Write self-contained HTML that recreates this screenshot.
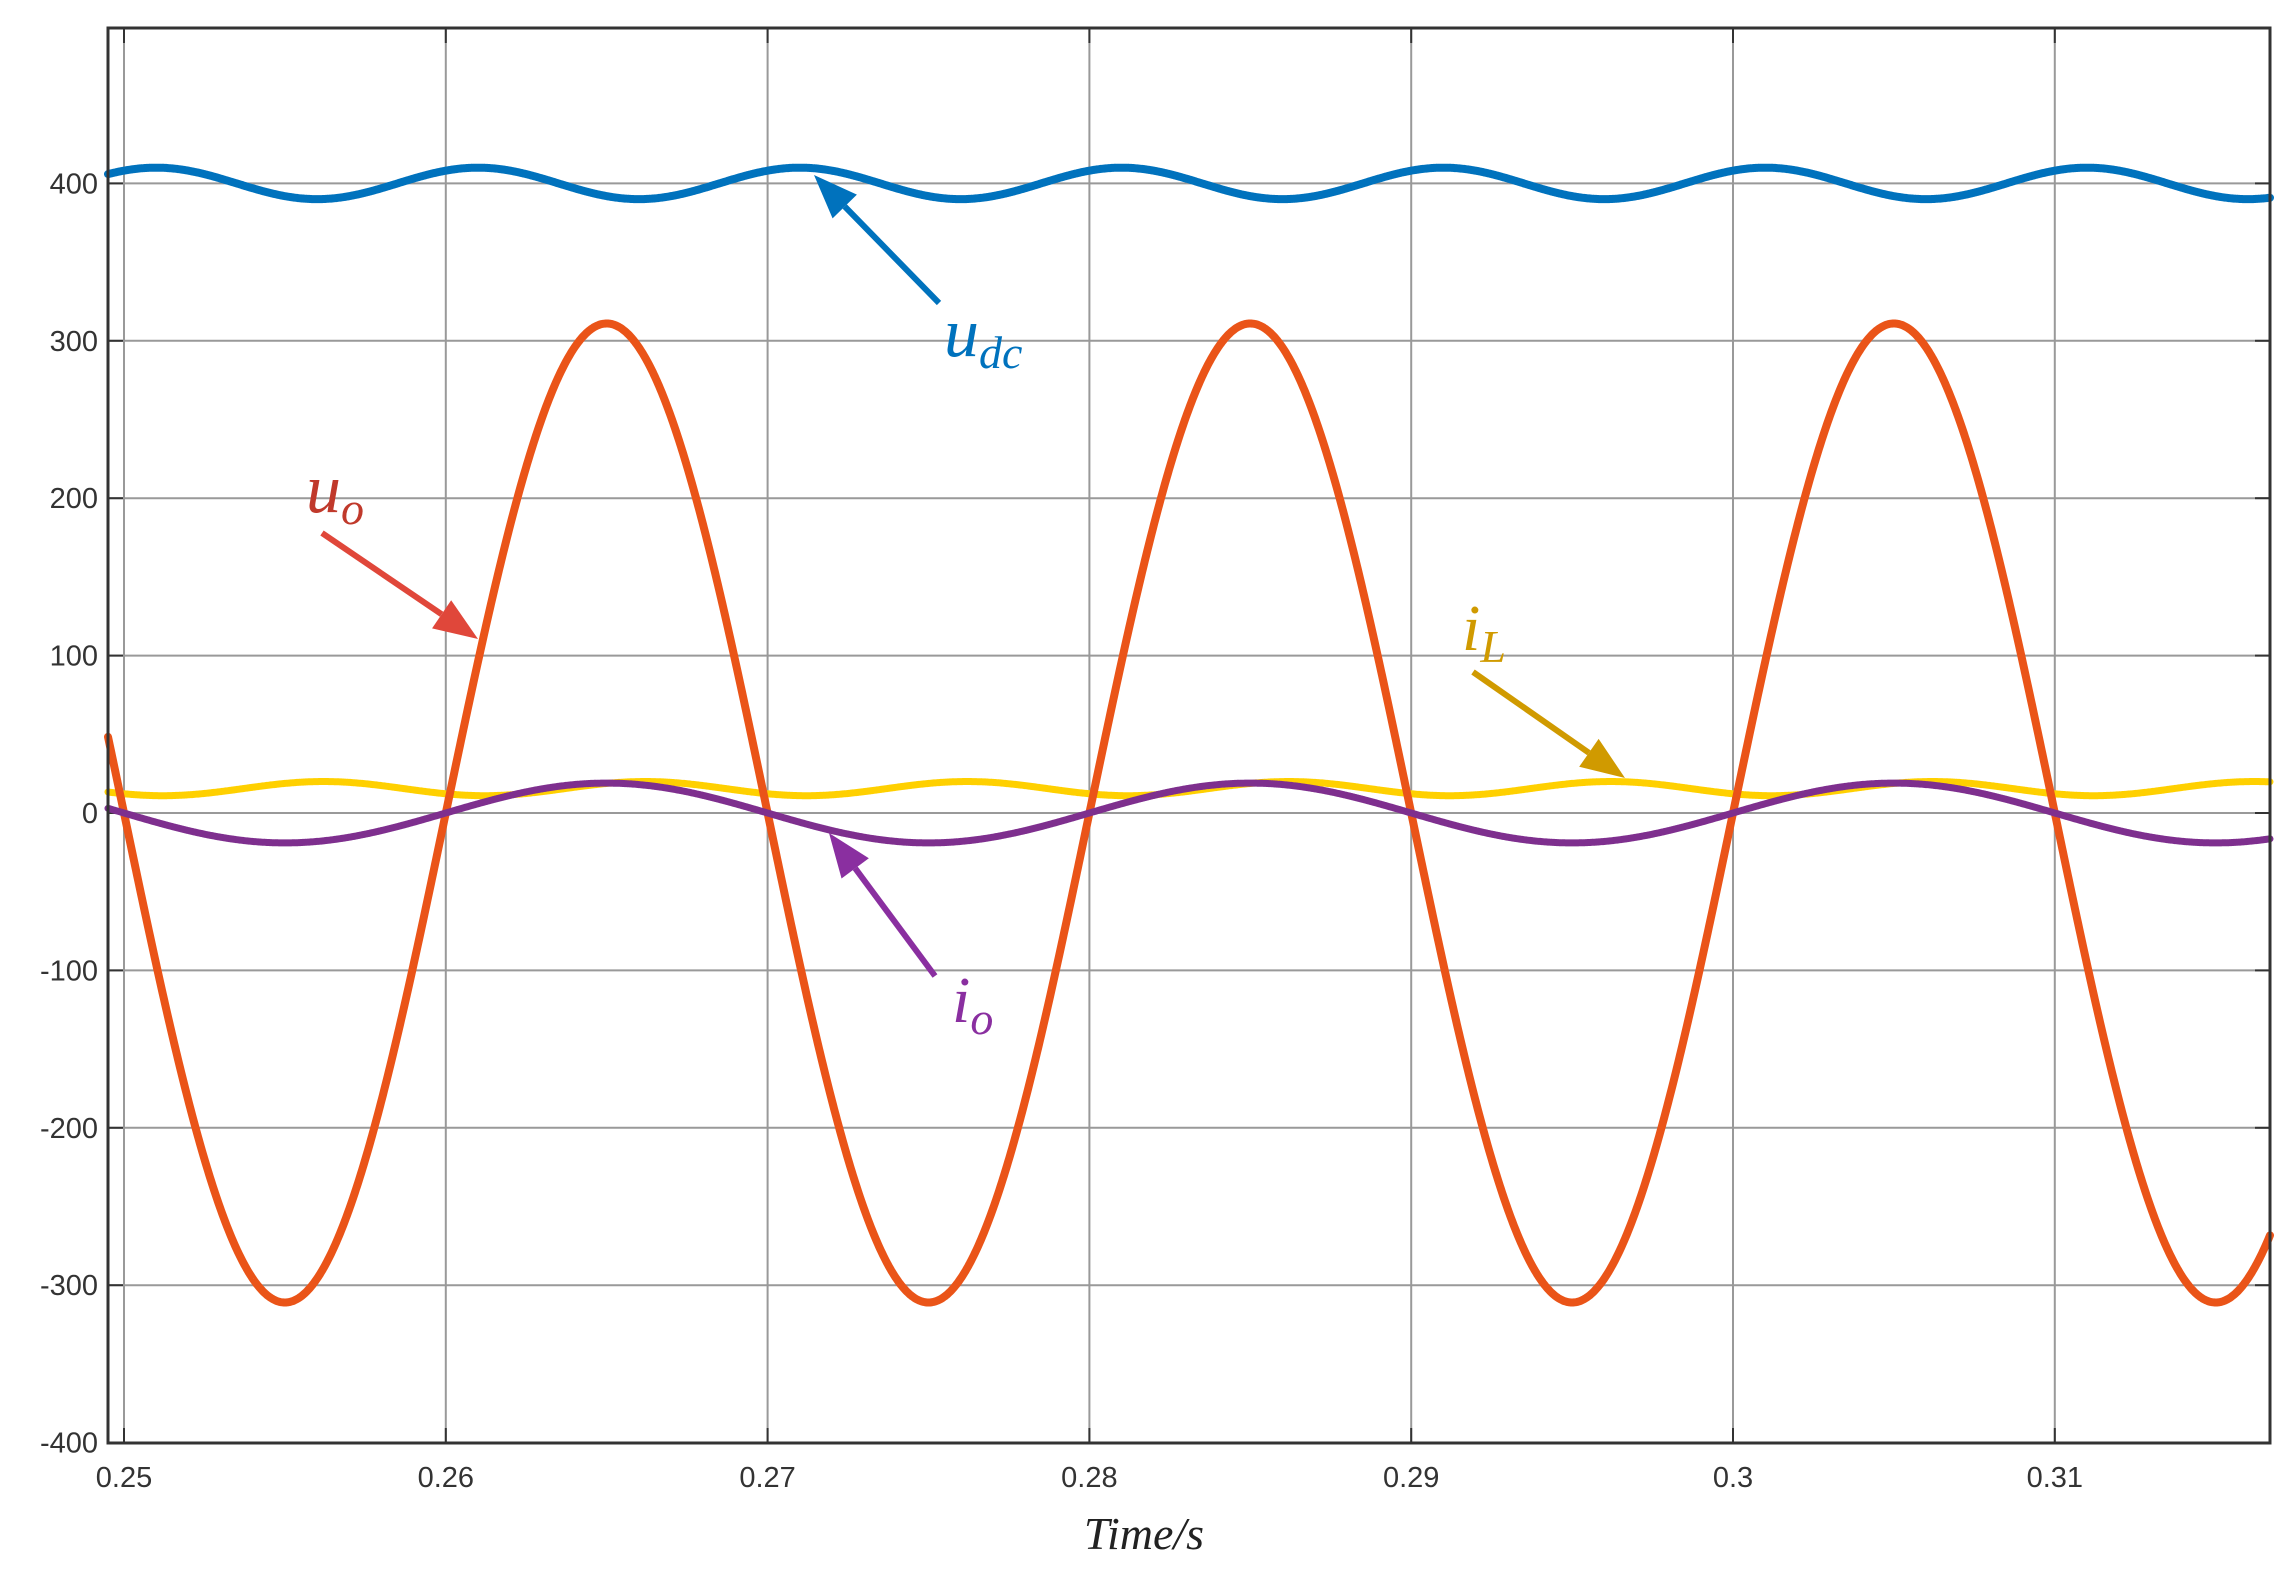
<!DOCTYPE html>
<html><head><meta charset="utf-8"><style>
html,body{margin:0;padding:0;background:#fff;}
svg{display:block;}
.t{font-family:"Liberation Sans",sans-serif;font-size:29px;fill:#333;}
.l{font-family:"Liberation Serif",serif;font-style:italic;}
</style></head><body>
<svg id="s" width="2292" height="1580" viewBox="0 0 2292 1580" xmlns="http://www.w3.org/2000/svg">
<rect x="108" y="28" width="2162" height="1415" fill="#fff"/>
<g id="grid" stroke="#999" stroke-width="2"></g>
<g id="ticks" class="t"></g>
<g id="series" fill="none" stroke-linejoin="round" stroke-linecap="round"></g>
<rect x="108" y="28" width="2162" height="1415" fill="none" stroke="#333" stroke-width="3"/>
<g id="ann"></g>
<text x="1144" y="1549" text-anchor="middle" class="l" font-size="46" fill="#222">Time/s</text>
<text x="944" y="356" class="l" font-size="70" fill="#0072bd">u<tspan font-size="46" dy="12">dc</tspan></text>
<text x="306" y="512" class="l" font-size="70" fill="#c0392b">u<tspan font-size="46" dy="12">o</tspan></text>
<text x="1462" y="650" class="l" font-size="66" fill="#d09a00">i<tspan font-size="46" dy="12">L</tspan></text>
<text x="952" y="1022" class="l" font-size="66" fill="#8a2fa0">i<tspan font-size="46" dy="12">o</tspan></text>
</svg>
<script>
var NS="http://www.w3.org/2000/svg";
function Y(v){return 813-v*1.574;}
var g=document.getElementById("grid"),tk=document.getElementById("ticks");
function el(p,tag,a,txt){var e=document.createElementNS(NS,tag);for(var k in a)e.setAttribute(k,a[k]);if(txt!=null)e.textContent=txt;p.appendChild(e);return e;}
var xl=["0.25","0.26","0.27","0.28","0.29","0.3","0.31"];
for(var i=0;i<7;i++){var x=124+i*321.8;el(g,"line",{x1:x,y1:28,x2:x,y2:1443});
el(g,"line",{x1:x,y1:1443,x2:x,y2:1428,stroke:"#333"});el(g,"line",{x1:x,y1:28,x2:x,y2:43,stroke:"#333"});
el(tk,"text",{x:x,y:1487,"text-anchor":"middle"},xl[i]);}
for(var v=-400;v<=400;v+=100){var y=Y(v);if(v>-400)el(g,"line",{x1:108,y1:y,x2:2270,y2:y});
el(g,"line",{x1:108,y1:y,x2:123,y2:y,stroke:"#333"});el(g,"line",{x1:2255,y1:y,x2:2270,y2:y,stroke:"#333"});
el(tk,"text",{x:98,y:y+10,"text-anchor":"end"},String(v));}
var s=document.getElementById("series");
function path(f,col,w){var d="";for(var px=108;px<=2270;px+=1){var t=0.25+(px-124)/32180;d+=(px==108?"M":"L")+px+","+Y(f(t)).toFixed(1);}
el(s,"path",{d:d,stroke:col,"stroke-width":w});}
var P=Math.PI;
path(function(t){return 400+10*Math.cos(2*P*100*(t-0.271));},"#0072bd",8);
path(function(t){return 15.5+4.5*Math.cos(2*P*100*(t-0.2562));},"#ffd000",7);
path(function(t){return 311*Math.sin(2*P*50*(t-0.26));},"#ea5418",8);
path(function(t){return 19*Math.sin(2*P*50*(t-0.26));},"#7e2f8e",7);
var a=document.getElementById("ann");
function arrow(x1,y1,x2,y2,col){var dx=x2-x1,dy=y2-y1,L=Math.sqrt(dx*dx+dy*dy),ux=dx/L,uy=dy/L,h=44,w=17;
var bx=x2-ux*h,by=y2-uy*h;
el(a,"line",{x1:x1,y1:y1,x2:bx,y2:by,stroke:col,"stroke-width":6});
el(a,"polygon",{points:x2+","+y2+" "+(bx-uy*w)+","+(by+ux*w)+" "+(bx+uy*w)+","+(by-ux*w),fill:col});}
arrow(939,303,814,175,"#0072bd");
arrow(322,533,478,639,"#e0473a");
arrow(1473,672,1625,778,"#d09a00");
arrow(935,976,829,833,"#8a2fa0");
</script>
</body></html>
